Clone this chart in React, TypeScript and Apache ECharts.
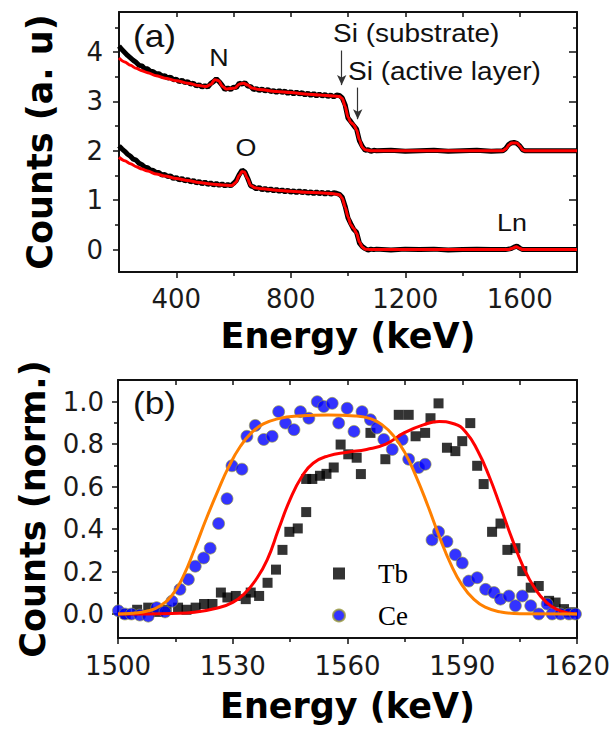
import React, { useEffect, useRef } from "react";
import * as echarts from "echarts";

// ---------- Panel (a): RBS spectra ----------
const spectrumEnergy = [
  200, 210, 220, 230, 240, 250, 260, 270, 280, 290,
  300, 310, 320, 330, 340, 350, 360, 370, 380, 390,
  400, 410, 420, 430, 440, 450, 460, 470, 480, 490,
  500, 510, 520, 530, 540, 550, 560, 570, 580, 590,
  600, 610, 620, 630, 640, 650, 660, 670, 680, 690,
  700, 710, 720, 730, 740, 750, 760, 770, 780, 790,
  800, 810, 820, 830, 840, 850, 860, 870, 880, 890,
  900, 910, 920, 930, 940, 950, 960, 970, 980, 990,
  1000, 1010, 1020, 1030, 1040, 1050, 1060, 1070, 1080, 1090,
  1100, 1150, 1200, 1250, 1300, 1350, 1400, 1450, 1500, 1540,
  1550, 1560, 1570, 1580, 1590, 1600, 1610, 1620, 1700, 1800,
];

const spectrumTop = [
  4.12, 4.05, 3.99, 3.93, 3.88, 3.83, 3.79, 3.73, 3.72, 3.66,
  3.66, 3.61, 3.60, 3.56, 3.56, 3.51, 3.52, 3.47, 3.49, 3.44,
  3.45, 3.40, 3.43, 3.38, 3.40, 3.35, 3.37, 3.31, 3.34, 3.29,
  3.32, 3.29, 3.36, 3.40, 3.46, 3.40, 3.33, 3.24, 3.27, 3.24,
  3.29, 3.28, 3.37, 3.35, 3.38, 3.31, 3.30, 3.24, 3.26, 3.22,
  3.25, 3.21, 3.24, 3.20, 3.22, 3.18, 3.22, 3.18, 3.21, 3.16,
  3.20, 3.15, 3.19, 3.15, 3.18, 3.13, 3.17, 3.12, 3.16, 3.11,
  3.15, 3.11, 3.14, 3.10, 3.13, 3.09, 3.13, 3.12, 3.07, 2.93,
  2.66, 2.59, 2.51, 2.44, 2.20, 2.09, 2.01, 2.02, 1.99, 2.01,
  2.00, 2.01, 1.99, 2.00, 2.01, 1.99, 2.00, 2.01, 1.99, 2.00,
  2.04, 2.12, 2.16, 2.17, 2.15, 2.10, 2.02, 2.00, 2.00, 2.00,
];

const spectrumBottom = [
  2.10, 2.04, 1.99, 1.93, 1.89, 1.83, 1.81, 1.75, 1.72, 1.67,
  1.66, 1.61, 1.60, 1.56, 1.56, 1.51, 1.52, 1.48, 1.49, 1.44,
  1.46, 1.41, 1.44, 1.39, 1.42, 1.37, 1.40, 1.35, 1.38, 1.33,
  1.37, 1.32, 1.35, 1.31, 1.34, 1.30, 1.33, 1.29, 1.32, 1.29,
  1.34, 1.40, 1.52, 1.61, 1.57, 1.44, 1.29, 1.27, 1.23, 1.26,
  1.21, 1.24, 1.20, 1.23, 1.19, 1.22, 1.18, 1.21, 1.17, 1.20,
  1.16, 1.19, 1.15, 1.19, 1.15, 1.18, 1.14, 1.17, 1.13, 1.17,
  1.13, 1.16, 1.12, 1.16, 1.12, 1.15, 1.14, 1.12, 1.06, 0.88,
  0.64, 0.52, 0.41, 0.35, 0.13, 0.06, 0.02, -0.01, 0.01, 0.00,
  0.01, -0.01, 0.01, 0.00, 0.01, -0.01, 0.00, 0.01, 0.00, 0.00,
  0.00, 0.01, 0.02, 0.05, 0.07, 0.03, 0.00, 0.00, 0.00, 0.00,
];

const fitTop: [number, number][] = [
  [200, 3.88], [220, 3.80], [240, 3.73], [260, 3.67], [280, 3.62], [300, 3.58],
  [330, 3.52], [360, 3.47], [400, 3.42], [440, 3.37], [480, 3.32], [505, 3.30],
  [520, 3.34], [535, 3.44], [548, 3.42], [562, 3.30], [575, 3.25], [590, 3.26],
  [605, 3.27], [620, 3.35], [635, 3.37], [650, 3.33], [665, 3.27], [690, 3.24],
  [750, 3.20], [800, 3.18], [850, 3.15], [900, 3.13], [950, 3.11], [970, 3.10],
  [980, 3.06], [990, 2.90], [1000, 2.68], [1010, 2.57], [1020, 2.53], [1030, 2.42],
  [1040, 2.22], [1050, 2.07], [1060, 2.02], [1080, 2.00], [1540, 2.00], [1552, 2.04],
  [1562, 2.12], [1572, 2.16], [1590, 2.16], [1600, 2.10], [1610, 2.02], [1620, 2.00],
  [1800, 2.00],
];

const fitBottom: [number, number][] = [
  [200, 1.87], [220, 1.80], [240, 1.74], [260, 1.68], [280, 1.63], [300, 1.59],
  [330, 1.53], [360, 1.49], [400, 1.44], [440, 1.40], [480, 1.36], [520, 1.33],
  [560, 1.31], [595, 1.30], [608, 1.36], [620, 1.50], [630, 1.58], [638, 1.57],
  [648, 1.45], [660, 1.30], [675, 1.25], [700, 1.23], [750, 1.20], [800, 1.18],
  [850, 1.16], [900, 1.15], [950, 1.13], [970, 1.11], [980, 1.04], [990, 0.86],
  [1000, 0.66], [1010, 0.50], [1020, 0.43], [1030, 0.33], [1040, 0.15], [1050, 0.05],
  [1060, 0.01], [1080, 0.00], [1560, 0.00], [1575, 0.03], [1588, 0.06], [1598, 0.03],
  [1610, 0.00], [1800, 0.00],
];

// ---------- Panel (b): Tb / Ce depth profiles ----------
const tbPoints: [number, number][] = [
  [1502.0, 0.0], [1505.0, 0.02], [1507.9, 0.03], [1510.5, 0.01], [1512.7, 0.02],
  [1515.7, 0.03], [1517.9, 0.02], [1520.3, 0.03], [1522.5, 0.047], [1524.7, 0.047],
  [1526.9, 0.101], [1528.6, 0.078], [1530.8, 0.085], [1533.4, 0.07], [1534.7, 0.101],
  [1536.9, 0.085], [1539.1, 0.147], [1541.3, 0.209], [1543.0, 0.302], [1544.8, 0.387],
  [1547.0, 0.403], [1549.2, 0.48], [1549.2, 0.636], [1550.8, 0.636], [1552.8, 0.651],
  [1554.5, 0.66], [1556.4, 0.69], [1558.2, 0.798], [1560.2, 0.752], [1562.4, 0.736],
  [1563.5, 0.659], [1566.0, 0.853], [1569.9, 0.729], [1573.4, 0.938], [1576.0, 0.938],
  [1577.8, 0.837], [1580.3, 0.853], [1581.7, 0.922], [1583.8, 0.992], [1586.0, 0.783],
  [1588.2, 0.767], [1590.0, 0.814], [1592.1, 0.899], [1593.9, 0.698], [1595.6, 0.612],
  [1597.8, 0.387], [1600.0, 0.426], [1601.8, 0.302], [1603.9, 0.31], [1605.7, 0.202],
  [1607.9, 0.124], [1610.0, 0.132], [1612.7, 0.062], [1614.4, 0.054], [1616.6, 0.023],
  [1618.4, 0.008],
];

const cePoints: [number, number][] = [
  [1500.1, 0.015], [1501.8, 0.0], [1503.5, 0.0], [1505.7, -0.005], [1507.9, -0.01],
  [1510.1, 0.03], [1512.3, 0.01], [1514.1, 0.06], [1516.2, 0.116], [1518.4, 0.163],
  [1520.2, 0.225], [1522.4, 0.264], [1524.1, 0.31], [1526.3, 0.426], [1528.5, 0.543],
  [1529.8, 0.698], [1532.4, 0.682], [1533.7, 0.837], [1535.9, 0.888], [1538.1, 0.822],
  [1540.3, 0.837], [1542.0, 0.953], [1543.8, 0.899], [1546.0, 0.868], [1547.7, 0.953],
  [1549.9, 0.922], [1552.1, 1.0], [1553.8, 0.977], [1556.0, 0.992], [1557.7, 0.899],
  [1559.9, 0.969], [1561.7, 0.86], [1563.8, 0.953], [1566.0, 0.915], [1567.7, 0.876],
  [1569.5, 0.822], [1571.7, 0.775], [1574.3, 0.822], [1576.0, 0.729], [1578.6, 0.69],
  [1580.3, 0.705], [1582.1, 0.349], [1583.8, 0.387], [1586.0, 0.341], [1588.2, 0.279],
  [1590.0, 0.24], [1591.7, 0.155], [1593.9, 0.171], [1596.1, 0.116], [1598.3, 0.101],
  [1600.0, 0.07], [1602.2, 0.085], [1603.9, 0.039], [1605.7, 0.085], [1607.9, 0.039],
  [1610.0, 0.0], [1612.2, 0.047], [1613.5, 0.0], [1615.7, 0.0], [1617.9, 0.0],
  [1619.6, 0.0],
];

const tbFit: [number, number][] = [
  [1500, 0.0], [1508, 0.0], [1514, 0.002], [1520, 0.008], [1526, 0.028], [1530, 0.055],
  [1533, 0.095], [1536, 0.16], [1539, 0.255], [1542, 0.4], [1545, 0.54],
  [1548, 0.645], [1551, 0.71], [1555, 0.745], [1560, 0.762], [1565, 0.775],
  [1570, 0.8], [1575, 0.855], [1580, 0.892], [1584, 0.906], [1588, 0.895],
  [1591, 0.855], [1594, 0.77], [1597, 0.65], [1600, 0.505], [1603, 0.355],
  [1606, 0.22], [1609, 0.12], [1612, 0.055], [1615, 0.02], [1618, 0.004],
  [1620, 0.0],
];

const ceFit: [number, number][] = [
  [1500, 0.0], [1504, 0.004], [1508, 0.015], [1511, 0.038], [1514, 0.085],
  [1517, 0.175], [1520, 0.305], [1523, 0.445], [1526, 0.575], [1529, 0.695],
  [1532, 0.79], [1535, 0.855], [1538, 0.895], [1542, 0.92], [1547, 0.932],
  [1555, 0.937], [1562, 0.933], [1566, 0.92], [1569, 0.892], [1572, 0.84],
  [1575, 0.76], [1578, 0.645], [1581, 0.51], [1584, 0.365], [1587, 0.235],
  [1590, 0.135], [1593, 0.07], [1596, 0.032], [1600, 0.01], [1605, 0.001],
  [1620, 0.0],
];

// ---------- ticks ----------
const xMajorA = [400, 800, 1200, 1600];
const xMinorA = [600, 1000, 1400];
const xTopA = [200, 400, 600, 800, 1000, 1200, 1400, 1600, 1800];
const yMajorA = [0, 1, 2, 3, 4];
const yMinorA = [0.5, 1.5, 2.5, 3.5, 4.5];
const xMajorB = [1500, 1530, 1560, 1590, 1620];
const xMinorB = [1515, 1545, 1575, 1605];
const xTopB = [1500, 1515, 1530, 1545, 1560, 1575, 1590, 1605, 1620];
const yMajorB = [0, 0.2, 0.4, 0.6, 0.8, 1.0];
const yMinorB = [0.1, 0.3, 0.5, 0.7, 0.9];
const yRightB = [0, 0.1, 0.2, 0.3, 0.4, 0.5, 0.6, 0.7, 0.8, 0.9, 1.0];

const INK = "#111";
const RANGE_A = { xmin: 200, xmax: 1800, ymin: -0.453, ymax: 4.81 };
const RANGE_B = { xmin: 1500, xmax: 1620, ymin: -0.113, ymax: 1.102 };

const tickLabel = {
  fontFamily: "DejaVu Sans",
  fontSize: 26,
  color: "#1a1a1a",
};
const nameStyle = {
  fontFamily: "DejaVu Sans",
  fontWeight: "bold" as const,
  fontSize: 35,
  color: "#000",
};

function frameAxis(
  gridIndex: number,
  min: number,
  max: number,
  position: string,
  ticks: number[],
  tickLen: number,
  inside: boolean,
  showLine: boolean,
  extra: any = {}
) {
  return {
    type: "value",
    gridIndex,
    min,
    max,
    position,
    axisLine: { show: showLine, onZero: false, lineStyle: { color: INK, width: 2 } },
    axisTick: {
      show: true,
      inside,
      length: tickLen,
      customValues: ticks,
      lineStyle: { color: INK, width: 1.5 },
    },
    axisLabel: { show: false },
    splitLine: { show: false },
    ...extra,
  };
}

function labelText(text: string, x: number, y: number, size: number, align: string, scaleX = 1.12) {
  return {
    type: "text",
    x,
    y,
    scaleX,
    silent: true,
    style: {
      text,
      fontFamily: "Liberation Sans",
      fontSize: size,
      fill: "#111",
      align,
      verticalAlign: "middle",
    },
  };
}

export default function App() {
  const ref = useRef<HTMLDivElement>(null);

  useEffect(() => {
    if (!ref.current) return;
    const chart = echarts.init(ref.current, null, { renderer: "svg" });

    const plain = (v: number) => String(v);

    const xAxis = [
      frameAxis(0, RANGE_A.xmin, RANGE_A.xmax, "bottom", xMajorA, 6, false, true, {
        axisLabel: { show: true, customValues: xMajorA, margin: 14, formatter: plain, ...tickLabel },
        name: "Energy (keV)",
        nameLocation: "middle",
        nameGap: 46,
        nameTextStyle: nameStyle,
      }),
      frameAxis(0, RANGE_A.xmin, RANGE_A.xmax, "bottom", xMinorA, 4, false, false),
      frameAxis(0, RANGE_A.xmin, RANGE_A.xmax, "top", xTopA, 5, true, true),
      frameAxis(1, RANGE_B.xmin, RANGE_B.xmax, "bottom", xMajorB, 6, false, true, {
        axisLabel: { show: true, customValues: xMajorB, margin: 15, formatter: plain, ...tickLabel },
        name: "Energy (keV)",
        nameLocation: "middle",
        nameGap: 50,
        nameTextStyle: nameStyle,
      }),
      frameAxis(1, RANGE_B.xmin, RANGE_B.xmax, "bottom", xMinorB, 4, false, false),
      frameAxis(1, RANGE_B.xmin, RANGE_B.xmax, "top", xTopB, 5, true, true),
    ];

    const yAxis = [
      frameAxis(0, RANGE_A.ymin, RANGE_A.ymax, "left", yMajorA, 6, false, true, {
        axisLabel: { show: true, customValues: yMajorA, margin: 16, formatter: plain, ...tickLabel },
        name: "Counts (a. u)",
        nameLocation: "middle",
        nameGap: 62,
        nameRotate: 90,
        nameTextStyle: nameStyle,
      }),
      frameAxis(0, RANGE_A.ymin, RANGE_A.ymax, "left", yMinorA, 4, false, false),
      frameAxis(0, RANGE_A.ymin, RANGE_A.ymax, "right", yMajorA, 8, true, true),
      frameAxis(0, RANGE_A.ymin, RANGE_A.ymax, "right", yMinorA, 4, true, false),
      frameAxis(1, RANGE_B.ymin, RANGE_B.ymax, "left", yMajorB, 6, false, true, {
        axisLabel: {
          show: true,
          customValues: yMajorB,
          margin: 14,
          formatter: (v: number) => v.toFixed(1),
          ...tickLabel,
        },
        name: "Counts (norm.)",
        nameLocation: "middle",
        nameGap: 68,
        nameRotate: 90,
        nameTextStyle: nameStyle,
      }),
      frameAxis(1, RANGE_B.ymin, RANGE_B.ymax, "left", yMinorB, 4, false, false),
      frameAxis(1, RANGE_B.ymin, RANGE_B.ymax, "right", yRightB, 5, true, true),
    ];

    const topSeriesData = spectrumEnergy.map((e, i) => [e, spectrumTop[i]]);
    const bottomSeriesData = spectrumEnergy.map((e, i) => [e, spectrumBottom[i]]);

    const option: any = {
      animation: false,
      backgroundColor: "#fff",
      grid: [
        { left: 119, top: 12, width: 458, height: 260 },
        { left: 118, top: 380, width: 459, height: 258 },
      ],
      xAxis,
      yAxis,
      legend: {
        data: ["Tb", "Ce"],
        orient: "vertical",
        left: 332,
        top: 560,
        padding: 0,
        itemGap: 15,
        itemWidth: 12,
        itemHeight: 12,
        selectedMode: false,
        textStyle: {
          fontFamily: "Liberation Serif",
          fontSize: 27,
          color: "#000",
          padding: [0, 0, 0, 28],
        },
      },
      series: [
        {
          name: "Sample 1 data",
          type: "line",
          xAxisIndex: 0,
          yAxisIndex: 0,
          data: topSeriesData,
          showSymbol: false,
          lineStyle: { color: "#000", width: 5 },
          z: 2,
        },
        {
          name: "Sample 2 data",
          type: "line",
          xAxisIndex: 0,
          yAxisIndex: 0,
          data: bottomSeriesData,
          showSymbol: false,
          lineStyle: { color: "#000", width: 5 },
          z: 2,
        },
        {
          name: "Sample 1 fit",
          type: "line",
          xAxisIndex: 0,
          yAxisIndex: 0,
          data: fitTop,
          showSymbol: false,
          smooth: 0.3,
          smoothMonotone: "x",
          lineStyle: { color: "#ff0000", width: 3 },
          z: 3,
          markLine: {
            silent: true,
            symbol: ["none", "arrow"],
            symbolSize: [7, 10],
            label: { show: false },
            lineStyle: { color: "#333", width: 1.2, type: "solid" },
            data: [
              [{ coord: [978, 4.03] }, { coord: [978, 3.33] }],
              [{ coord: [1034, 3.28] }, { coord: [1034, 2.64] }],
            ],
          },
        },
        {
          name: "Sample 2 fit",
          type: "line",
          xAxisIndex: 0,
          yAxisIndex: 0,
          data: fitBottom,
          showSymbol: false,
          smooth: 0.3,
          smoothMonotone: "x",
          lineStyle: { color: "#ff0000", width: 3 },
          z: 3,
        },
        {
          name: "Tb",
          type: "scatter",
          xAxisIndex: 3,
          yAxisIndex: 4,
          data: tbPoints,
          symbol: "rect",
          symbolSize: 10,
          itemStyle: { color: "#000" },
          z: 2,
        },
        {
          name: "Ce",
          type: "scatter",
          xAxisIndex: 3,
          yAxisIndex: 4,
          data: cePoints,
          symbol: "circle",
          symbolSize: 12,
          itemStyle: { color: "#0000ff", borderColor: "#9a9a3a", borderWidth: 0.8 },
          z: 3,
        },
        {
          name: "Tb fit",
          type: "line",
          xAxisIndex: 3,
          yAxisIndex: 4,
          data: tbFit,
          showSymbol: false,
          smooth: 0.5,
          lineStyle: { color: "#ff0000", width: 3 },
          z: 4,
        },
        {
          name: "Ce fit",
          type: "line",
          xAxisIndex: 3,
          yAxisIndex: 4,
          data: ceFit,
          showSymbol: false,
          smooth: 0.5,
          lineStyle: { color: "#ff8000", width: 3 },
          z: 5,
        },
      ],
      graphic: [
        labelText("(a)", 133, 36, 32, "left", 1.1),
        labelText("(b)", 133, 403, 32, "left", 1.1),
        labelText("N", 219, 58, 24, "center"),
        labelText("O", 246, 148, 24, "center"),
        labelText("Si (substrate)", 333, 34, 25, "left"),
        labelText("Si (active layer)", 348, 72, 25, "left"),
        labelText("Ln", 512, 223, 24, "center"),
      ],
    };

    chart.setOption(option);
    return () => chart.dispose();
  }, []);

  return (
    <div
      ref={ref}
      style={{ position: "absolute", left: 0, top: 0, width: 616, height: 729, background: "#fff" }}
    />
  );
}
